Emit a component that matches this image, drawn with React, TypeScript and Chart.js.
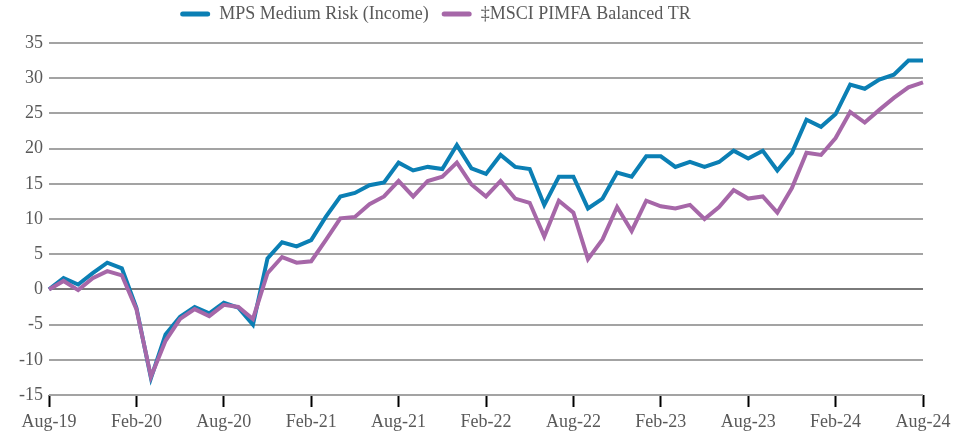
import React, { useEffect, useRef } from "react";
import { Chart, registerables } from "chart.js";

Chart.register(...registerables);

const MONTHS: string[] = [
  "Aug-19", "Sep-19", "Oct-19", "Nov-19", "Dec-19", "Jan-20", "Feb-20", "Mar-20", "Apr-20", "May-20", "Jun-20", "Jul-20",
  "Aug-20", "Sep-20", "Oct-20", "Nov-20", "Dec-20", "Jan-21", "Feb-21", "Mar-21", "Apr-21", "May-21", "Jun-21", "Jul-21",
  "Aug-21", "Sep-21", "Oct-21", "Nov-21", "Dec-21", "Jan-22", "Feb-22", "Mar-22", "Apr-22", "May-22", "Jun-22", "Jul-22",
  "Aug-22", "Sep-22", "Oct-22", "Nov-22", "Dec-22", "Jan-23", "Feb-23", "Mar-23", "Apr-23", "May-23", "Jun-23", "Jul-23",
  "Aug-23", "Sep-23", "Oct-23", "Nov-23", "Dec-23", "Jan-24", "Feb-24", "Mar-24", "Apr-24", "May-24", "Jun-24", "Jul-24",
  "Aug-24",
];

const MPS_LABEL = "MPS Medium Risk (Income)";
const MPS_VALUES: number[] = [
  0, 1.6, 0.7, 2.3, 3.8, 3.0, -2.6, -12.6, -6.4, -3.9, -2.5, -3.4,
  -1.9, -2.6, -5.0, 4.4, 6.7, 6.1, 7.0, 10.3, 13.2, 13.7, 14.8, 15.2,
  18.0, 16.9, 17.4, 17.1, 20.5, 17.2, 16.4, 19.1, 17.4, 17.1, 12.0, 16.0,
  16.0, 11.5, 12.9, 16.6, 16.0, 18.9, 18.9, 17.4, 18.1, 17.4, 18.1, 19.7,
  18.6, 19.7, 16.9, 19.4, 24.1, 23.1, 24.9, 29.1, 28.5, 29.8, 30.5, 32.5,
  32.5,
];

const MSCI_LABEL = "\u2021MSCI PIMFA Balanced TR";
const MSCI_VALUES: number[] = [
  0, 1.2, -0.1, 1.6, 2.6, 2.0, -2.8, -12.4, -7.3, -4.2, -2.8, -3.8,
  -2.2, -2.5, -4.2, 2.3, 4.6, 3.8, 4.0, 7.0, 10.1, 10.3, 12.1, 13.2,
  15.4, 13.2, 15.4, 16.0, 18.0, 14.9, 13.2, 15.4, 12.9, 12.3, 7.5, 12.6,
  10.9, 4.3, 7.1, 11.7, 8.3, 12.6, 11.8, 11.5, 12.0, 10.0, 11.7, 14.1,
  12.9, 13.2, 10.9, 14.4, 19.4, 19.1, 21.5, 25.2, 23.7, 25.5, 27.2, 28.7,
  29.4,
];

const Y_MIN = -15;
const Y_MAX = 35;
const Y_STEP = 5;
const LABEL_EVERY = 6;

const BLUE = "#0b7fb4";
const PURPLE = "#a667a8";
const TEXT = "#595959";
const FONT = "'Liberation Serif', 'Times New Roman', serif";

export default function App() {
  const ref = useRef<HTMLCanvasElement | null>(null);

  useEffect(() => {
    if (!ref.current) return;
    const legendPad = {
      id: "legendPad",
      afterInit(chart: any) {
        const lg = chart.legend;
        if (lg && !lg.__patched) {
          const origFit = lg.fit.bind(lg);
          lg.fit = function () {
            origFit();
            this.height = 43;
          };
          const origDraw = lg.draw.bind(lg);
          lg.draw = function () {
            const l = this.left;
            const r = this.right;
            const t = this.top;
            this.left = l - 33;
            this.right = r - 33;
            this.top = t - 8;
            origDraw();
            this.left = l;
            this.right = r;
            this.top = t;
          };
          lg.__patched = true;
        }
      },
    };
    const chart = new Chart(ref.current, {
      type: "line",
      data: {
        labels: MONTHS,
        datasets: [
          {
            label: MPS_LABEL,
            data: MPS_VALUES,
            borderColor: BLUE,
            backgroundColor: BLUE,
            borderWidth: 4,
            pointRadius: 0,
            tension: 0,
            order: 1,
          },
          {
            label: MSCI_LABEL,
            data: MSCI_VALUES,
            borderColor: PURPLE,
            backgroundColor: PURPLE,
            borderWidth: 4,
            pointRadius: 0,
            tension: 0,
            order: 0,
          },
        ],
      },
      options: {
        responsive: false,
        animation: false,
        layout: { padding: { left: 14, right: 42, top: 0, bottom: 0 } },
        plugins: {
          tooltip: { enabled: false },
          legend: {
            position: "top",
            labels: {
              font: { family: FONT, size: 18 },
              color: TEXT,
              boxWidth: 30,
              boxHeight: 5,
              padding: 13,
              useBorderRadius: true,
              borderRadius: 2.5,
              sort: (a: any, b: any) => a.datasetIndex - b.datasetIndex,
              generateLabels: (c: any) =>
                Chart.defaults.plugins.legend.labels
                  .generateLabels(c)
                  .map((l: any) => ({ ...l, lineWidth: 0, fontColor: TEXT })),
            },
          },
        },
        scales: {
          x: {
            type: "category",
            offset: false,
            border: { display: false },
            grid: {
              drawOnChartArea: false,
              drawTicks: true,
              tickLength: 12,
              tickColor: "#000000",
              tickWidth: 2,
            },
            ticks: {
              autoSkip: false,
              maxRotation: 0,
              padding: 4,
              color: TEXT,
              font: { family: FONT, size: 18 },
              callback: (_v: any, i: number) => (i % LABEL_EVERY === 0 ? MONTHS[i] : null),
            },
            afterFit: (s: any) => {
              s.height = 39;
            },
          },
          y: {
            min: Y_MIN,
            max: Y_MAX,
            border: { display: false },
            grid: {
              drawTicks: false,
              lineWidth: 2,
              color: (ctx: any) => (ctx.tick && ctx.tick.value === 0 ? "#7a7a7a" : "#a3a3a3"),
            },
            ticks: {
              stepSize: Y_STEP,
              padding: 6,
              color: TEXT,
              font: { family: FONT, size: 18 },
            },
            afterFit: (s: any) => {
              s.width = 35;
            },
          },
        },
      },
      plugins: [legendPad],
    } as any);
    return () => chart.destroy();
  }, []);

  return (
    <div style={{ position: "fixed", left: 0, top: 0, width: 965, height: 434, background: "#fff" }}>
      <canvas ref={ref} width={965} height={434} style={{ display: "block" }} />
    </div>
  );
}
